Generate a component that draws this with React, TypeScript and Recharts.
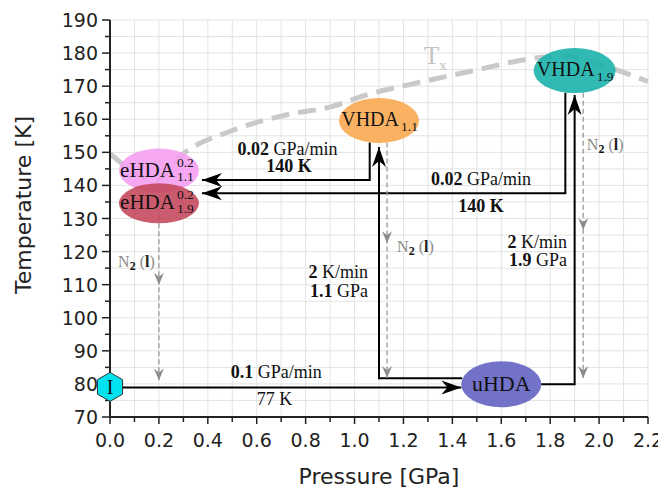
import React from 'react'
import { ComposedChart, Line, Scatter, XAxis, YAxis, CartesianGrid } from 'recharts'

// axis ticks (minor + major)
const pressureTicks = [0, 0.1, 0.2, 0.3, 0.4, 0.5, 0.6, 0.7, 0.8, 0.9, 1.0, 1.1, 1.2, 1.3, 1.4, 1.5, 1.6, 1.7, 1.8, 1.9, 2.0, 2.1, 2.2]
const tempTicks = [70, 75, 80, 85, 90, 95, 100, 105, 110, 115, 120, 125, 130, 135, 140, 145, 150, 155, 160, 165, 170, 175, 180, 185, 190]

// crystallisation temperature Tx
const txCurve = [
  { p: 0, t: 149.6 }, { p: 0.19, t: 141.5 }, { p: 0.29, t: 149 }, { p: 0.5, t: 156.6 },
  { p: 0.72, t: 161.3 }, { p: 0.91, t: 163.9 }, { p: 1.05, t: 167.4 }, { p: 1.25, t: 170.9 },
  { p: 1.5, t: 174.9 }, { p: 1.73, t: 178.4 }, { p: 1.86, t: 179.2 }, { p: 2.0, t: 176.6 }, { p: 2.2, t: 171.4 },
]

// protocol paths (black)
const compressPath = [{ p: 0.05, t: 78.9 }, { p: 1.437, t: 78.9 }]
const heat11Path = [{ p: 1.44, t: 81.7 }, { p: 1.1, t: 81.7 }, { p: 1.1, t: 151.6 }]
const decomp11Path = [{ p: 1.062, t: 153 }, { p: 1.062, t: 141.6 }, { p: 0.376, t: 141.6 }]
const heat19Path = [{ p: 1.763, t: 79.9 }, { p: 1.9, t: 79.9 }, { p: 1.9, t: 167.3 }]
const decomp19Path = [{ p: 1.862, t: 168 }, { p: 1.862, t: 137.6 }, { p: 0.376, t: 137.6 }]

// quench in liquid N2 (grey dashed)
const quenchE = [{ p: 0.2, t: 131 }, { p: 0.2, t: 110 }, { p: 0.2, t: 81 }]
const quench11 = [{ p: 1.133, t: 153 }, { p: 1.133, t: 122.5 }, { p: 1.133, t: 81.8 }]
const quench19 = [{ p: 1.935, t: 168 }, { p: 1.935, t: 126.5 }, { p: 1.935, t: 81.7 }]

// amorphous states
const phases = [
  { id: 'eHDA11', p: 0.2, t: 144.5, name: 'eHDA', sup: '0.2', sub: '1.1' },
  { id: 'eHDA19', p: 0.2, t: 134.6, name: 'eHDA', sup: '0.2', sub: '1.9' },
  { id: 'VHDA11', p: 1.1, t: 159.6, name: 'VHDA', sup: '', sub: '1.1' },
  { id: 'VHDA19', p: 1.9, t: 174.7, name: 'VHDA', sup: '', sub: '1.9' },
  { id: 'uHDA', p: 1.6, t: 79.9, name: 'uHDA', sup: '', sub: '' },
]
const startState = [{ id: 'I', p: 0, t: 79.1, name: 'I' }]

// rate / condition annotations
const annotations = [
  { id: 'a1', p: 0.726, t: 149.2, num: '0.02', unit: 'GPa/min' },
  { id: 'a2', p: 0.732, t: 144.1, num: '140', unit: 'K' },
  { id: 'a3', p: 1.517, t: 140.1, num: '0.02', unit: 'GPa/min' },
  { id: 'a4', p: 1.517, t: 131.9, num: '140', unit: 'K' },
  { id: 'a5', p: 1.055, t: 112.0, num: '2', unit: 'K/min' },
  { id: 'a6', p: 1.055, t: 106.2, num: '1.1', unit: 'GPa' },
  { id: 'a7', p: 1.869, t: 121.0, num: '2', unit: 'K/min' },
  { id: 'a8', p: 1.869, t: 115.6, num: '1.9', unit: 'GPa' },
  { id: 'a9', p: 0.68, t: 81.7, num: '0.1', unit: 'GPa/min' },
  { id: 'a10', p: 0.673, t: 73.5, num: '77', unit: 'K' },
]
const n2Labels = [
  { id: 'n1', p: 0.033, t: 115.3 },
  { id: 'n2', p: 1.174, t: 119.8 },
  { id: 'n3', p: 1.95, t: 150.7 },
]
const txLabel = [{ id: 'tx', p: 1.284, t: 176.7 }]

const SERIF = '"Liberation Serif", "Times New Roman", serif'
const SANS = '"DejaVu Sans", sans-serif'

const phaseStyle: Record<string, any> = {
  eHDA11: { fill: '#f59cf0', op: 0.88, rx: 40, ry: 22, fs: 21 },
  eHDA19: { fill: '#c4465a', op: 0.88, rx: 40, ry: 20, fs: 21 },
  VHDA11: { fill: '#f9a850', op: 0.9, rx: 40, ry: 22.5, fs: 20 },
  VHDA19: { fill: '#1bb2ab', op: 0.9, rx: 41, ry: 22.5, fs: 20 },
  uHDA: { fill: '#6a6ac6', op: 0.95, rx: 40, ry: 23, fs: 22 },
}
const endAnchored = new Set(['a5', 'a6', 'a7', 'a8'])
const allBold = new Set(['a2', 'a4'])
const plainNum = new Set(['a10'])

function arrowHead(x: number, y: number, ang: number, L: number, W: number, N: number, color: string, key: string) {
  const c = Math.cos(ang), s = Math.sin(ang)
  const pts = [[0, 0], [-L, -W], [-L + N, 0], [-L, W]]
    .map(([a, b]) => `${x + a * c - b * s},${y + a * s + b * c}`).join(' ')
  return <polygon key={key} points={pts} fill={color} />
}

const makeDot = (path: { p: number; t: number }[], grey: boolean) => (props: any) => {
  const { cx, cy, index } = props
  const last = path.length - 1
  if (index === 0 || (!grey && index !== last) || cx == null) return <g key={`d${index}`} />
  const prev = path[index - 1], cur = path[index]
  const ang = Math.atan2(-Math.sign(cur.t - prev.t), Math.sign(cur.p - prev.p))
  return grey
    ? arrowHead(cx, cy, ang, 12, 5, 4, '#8c8c8c', `d${index}`)
    : arrowHead(cx, cy, ang, 20, 7, 6, '#000', `d${index}`)
}

const XTick = (props: any) => {
  const { x, y, payload } = props
  const v = payload.value
  const major = Math.round(v * 10) % 2 === 0
  return (
    <g>
      <line x1={x} y1={y} x2={x} y2={y + (major ? 7 : 5)} stroke="#222" strokeWidth={1.5} />
      {major && <text x={x} y={y + 30} textAnchor="middle" fontSize={19} fontFamily={SANS} fill="#222">{v.toFixed(1)}</text>}
    </g>
  )
}

const YTick = (props: any) => {
  const { x, y, payload } = props
  const v = payload.value
  const major = v % 10 === 0
  return (
    <g>
      <line x1={x} y1={y} x2={x - (major ? 8 : 5)} y2={y} stroke="#222" strokeWidth={1.5} />
      {major && <text x={x - 12} y={y + 7} textAnchor="end" fontSize={19} fontFamily={SANS} fill="#222">{v}</text>}
    </g>
  )
}

const XTitle = (props: any) => {
  const vb = props.viewBox || { x: 102, y: 409, width: 538 }
  return <text x={vb.x + vb.width / 2} y={vb.y + 67} textAnchor="middle" fontSize={22} fontFamily={SANS} fill="#222">Pressure [GPa]</text>
}

const YTitle = () => (
  <text x={23} y={197} transform="rotate(-90 23 197)" textAnchor="middle" fontSize={22} fontFamily={SANS} fill="#222">Temperature [K]</text>
)

const PhaseShape = (props: any) => {
  const { cx, cy, payload } = props
  const st = phaseStyle[payload.id]
  if (payload.id === 'uHDA') {
    return (
      <g>
        <ellipse cx={cx} cy={cy} rx={st.rx} ry={st.ry} fill={st.fill} fillOpacity={st.op} />
        <text x={cx} y={cy + 7} textAnchor="middle" fontSize={st.fs} fontFamily={SERIF} fill="#111">{payload.name}</text>
      </g>
    )
  }
  const isE = payload.sup !== ''
  const endX = cx + (isE ? 16 : 20)
  return (
    <g>
      <ellipse cx={cx} cy={cy} rx={st.rx} ry={st.ry} fill={st.fill} fillOpacity={st.op} />
      <text x={endX} y={cy + (isE ? 6 : 5)} textAnchor="end" fontSize={st.fs} fontFamily={SERIF} fill="#111">{payload.name}</text>
      {isE && <text x={endX + 2} y={cy - 4} fontSize={13.5} fontFamily={SERIF} fill="#111">{payload.sup}</text>}
      <text x={endX + 2} y={cy + 10} fontSize={13.5} fontFamily={SERIF} fill="#111">{payload.sub}</text>
    </g>
  )
}

const HexShape = (props: any) => {
  const { cx, cy, payload } = props
  const R = 14.5
  const pts = [0, 1, 2, 3, 4, 5].map(i => {
    const a = (Math.PI / 3) * i - Math.PI / 2
    return `${cx + R * Math.cos(a)},${cy + R * Math.sin(a)}`
  }).join(' ')
  return (
    <g>
      <polygon points={pts} fill="#00e2ef" stroke="#333" strokeWidth={1} />
      <text x={cx} y={cy + 7} textAnchor="middle" fontSize={20} fontFamily={SERIF} fill="#111">{payload.name}</text>
    </g>
  )
}

const AnnoShape = (props: any) => {
  const { cx, cy, payload } = props
  const anchor = endAnchored.has(payload.id) ? 'end' : 'middle'
  return (
    <text x={cx} y={cy} textAnchor={anchor} fontSize={18} fontFamily={SERIF} fill="#111">
      <tspan fontWeight={plainNum.has(payload.id) ? 'normal' : 'bold'}>{payload.num}</tspan>
      <tspan fontWeight={allBold.has(payload.id) ? 'bold' : 'normal'}>{' ' + payload.unit}</tspan>
    </text>
  )
}

const N2Shape = (props: any) => {
  const { cx, cy } = props
  return (
    <text x={cx} y={cy} fontSize={16} fontFamily={SERIF} fill="#8a8a8a">
      <tspan>N</tspan>
      <tspan dy={3} fontSize={12} fontWeight="bold" fill="#111">2</tspan>
      <tspan dy={-3}> (</tspan>
      <tspan fill="#222" fontWeight="bold">l</tspan>
      <tspan>)</tspan>
    </text>
  )
}

const TxShape = (props: any) => {
  const { cx, cy } = props
  return (
    <text x={cx} y={cy} fontSize={25} fontFamily={SERIF} fill="#c2c2c2">
      <tspan>T</tspan>
      <tspan dy={6} fontSize={15}>x</tspan>
    </text>
  )
}

const blackLine = { stroke: '#000', strokeWidth: 2, type: 'linear' as const, isAnimationActive: false, activeDot: false as const }
const greyLine = { stroke: '#9a9a9a', strokeWidth: 1.3, strokeDasharray: '5 3', type: 'linear' as const, isAnimationActive: false, activeDot: false as const }

export default function App() {
  return (
    <ComposedChart width={658} height={481} margin={{ top: 12, right: 18, bottom: 0, left: 0 }}>
      <CartesianGrid stroke="#e3e3e3" strokeWidth={1} />
      <XAxis dataKey="p" type="number" domain={[0, 2.2]} ticks={pressureTicks} interval={0} height={72}
        tickSize={0} tickMargin={0} tickLine={false} tick={<XTick />} axisLine={{ stroke: '#222', strokeWidth: 2 }}
        label={<XTitle />} />
      <YAxis dataKey="t" type="number" domain={[70, 190]} ticks={tempTicks} interval={0} width={102}
        tickSize={0} tickMargin={0} tickLine={false} tick={<YTick />} axisLine={{ stroke: '#222', strokeWidth: 2 }}
        label={<YTitle />} />
      <XAxis xAxisId="top" orientation="top" type="number" domain={[0, 2.2]} height={0} tick={false} tickLine={false}
        axisLine={{ stroke: '#555', strokeWidth: 2 }} />
      <YAxis yAxisId="right" orientation="right" type="number" domain={[70, 190]} width={0} tick={false} tickLine={false}
        axisLine={{ stroke: '#555', strokeWidth: 2 }} />

      <Line data={txCurve} dataKey="t" type="monotone" stroke="#c9c9c9" strokeWidth={5} strokeDasharray="18 9"
        dot={false} activeDot={false} isAnimationActive={false} />

      <Line data={compressPath} dataKey="t" {...blackLine} dot={makeDot(compressPath, false)} />
      <Line data={heat11Path} dataKey="t" {...blackLine} dot={makeDot(heat11Path, false)} />
      <Line data={decomp11Path} dataKey="t" {...blackLine} dot={makeDot(decomp11Path, false)} />
      <Line data={heat19Path} dataKey="t" {...blackLine} dot={makeDot(heat19Path, false)} />
      <Line data={decomp19Path} dataKey="t" {...blackLine} dot={makeDot(decomp19Path, false)} />

      <Line data={quenchE} dataKey="t" {...greyLine} dot={makeDot(quenchE, true)} />
      <Line data={quench11} dataKey="t" {...greyLine} dot={makeDot(quench11, true)} />
      <Line data={quench19} dataKey="t" {...greyLine} dot={makeDot(quench19, true)} />

      <Scatter data={phases} dataKey="t" shape={<PhaseShape />} isAnimationActive={false} />
      <Scatter data={annotations} dataKey="t" shape={<AnnoShape />} isAnimationActive={false} />
      <Scatter data={n2Labels} dataKey="t" shape={<N2Shape />} isAnimationActive={false} />
      <Scatter data={txLabel} dataKey="t" shape={<TxShape />} isAnimationActive={false} />
      <Scatter data={startState} dataKey="t" shape={<HexShape />} isAnimationActive={false} zIndex={2000} />
    </ComposedChart>
  )
}
